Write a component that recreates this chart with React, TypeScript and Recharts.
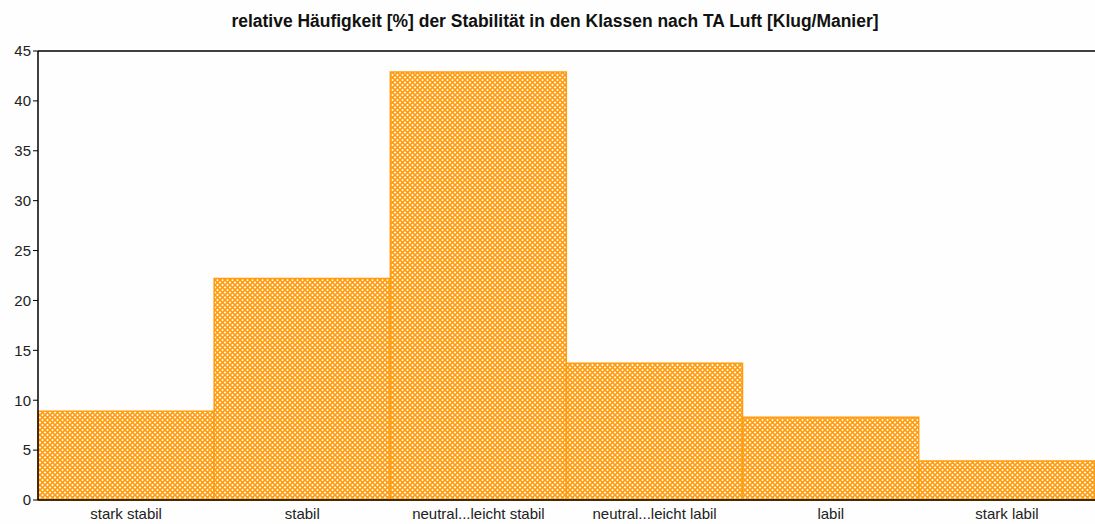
import { BarChart, Bar, XAxis, YAxis, ReferenceLine } from "recharts";

const categories = [
  "stark stabil",
  "stabil",
  "neutral...leicht stabil",
  "neutral...leicht labil",
  "labil",
  "stark labil",
];
const frequencies = [8.9, 22.2, 42.9, 13.7, 8.3, 3.9];
const yTicks = [0, 5, 10, 15, 20, 25, 30, 35, 40, 45];

const data = categories.map((name, i) => ({ name, value: frequencies[i] }));

const FONT = '"Liberation Sans Narrow", "Liberation Sans", Arial, sans-serif';
const ORANGE = "#ff9c0f";

export default function App() {
  return (
    <div
      style={{
        position: "absolute",
        left: 0,
        top: 0,
        width: 1095,
        height: 524,
        background: "#fdfefd",
        fontFamily: FONT,
      }}
    >
      <div
        style={{
          position: "absolute",
          top: 11,
          left: 0,
          width: 1110,
          textAlign: "center",
          fontSize: 18,
          fontWeight: "bold",
          color: "#111",
          transform: "scaleX(0.97)",
        }}
      >
        relative Häufigkeit [%] der Stabilität in den Klassen nach TA Luft [Klug/Manier]
      </div>
      <BarChart
        width={1095}
        height={524}
        data={data}
        barCategoryGap={0}
        margin={{ top: 51, right: 0, left: 0, bottom: 0 }}
      >
        <defs>
          <pattern id="hatch" width="5" height="5" patternUnits="userSpaceOnUse">
            <rect width="5" height="5" fill="#ffffff" />
            <path
              d="M-1,-1 L6,6 M6,-1 L-1,6"
              stroke={ORANGE}
              strokeWidth={1.7}
            />
          </pattern>
        </defs>
        <XAxis
          dataKey="name"
          height={24}
          tickLine={false}
          axisLine={{ stroke: "#000", strokeWidth: 1.5 }}
          tick={{ fontSize: 15, fill: "#222", fontFamily: FONT }}
          interval={0}
        />
        <YAxis
          width={38}
          domain={[0, 45]}
          ticks={yTicks}
          interval={0}
          tickSize={5}
          tickLine={{ stroke: "#000" }}
          axisLine={{ stroke: "#000", strokeWidth: 1.5 }}
          tick={{ fontSize: 15, fill: "#222", fontFamily: FONT }}
        />
        <ReferenceLine y={45} stroke="#000" strokeWidth={1.5} />
        <Bar
          dataKey="value"
          fill="url(#hatch)"
          stroke={ORANGE}
          strokeWidth={1.5}
          isAnimationActive={false}
        />
      </BarChart>
    </div>
  );
}
